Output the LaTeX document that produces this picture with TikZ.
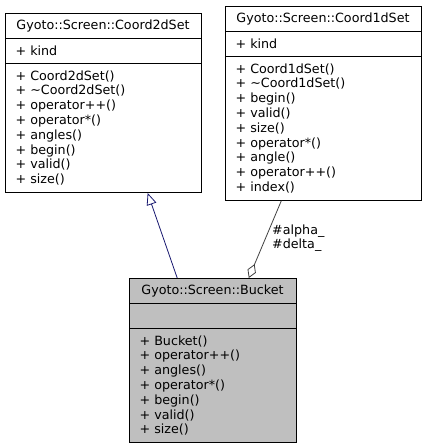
\documentclass[tikz,border=0pt]{standalone}
\usepackage{fontspec}
\setmainfont{DejaVu Sans}
\usetikzlibrary{arrows.meta,calc}
\definecolor{midnight}{HTML}{191970}
\definecolor{edgegrey}{HTML}{404040}
\definecolor{bucketfill}{HTML}{BFBFBF}
\tikzset{
  classbox/.style={draw=black, line width=1pt, inner sep=0pt, anchor=north west},
  sepline/.style={draw=black, line width=1pt},
  txt/.style={inner sep=0pt, anchor=base west, font=\fontsize{12.7}{14.8}\selectfont},
  ttl/.style={inner sep=0pt, anchor=base, font=\fontsize{12.7}{14.8}\selectfont},
  inherit/.style={draw=midnight, line width=0.8pt, -{Triangle[open, length=12pt, width=10pt]}},
  aggr/.style={draw=edgegrey, line width=0.8pt, -{Diamond[open, length=15pt, width=9pt]}}
}
\begin{document}
\begin{tikzpicture}[x=1pt, y=-1pt]
\useasboundingbox (0,0) rectangle (427,448);

% ---------- Coord2dSet ----------
\node[classbox, minimum width=196pt, minimum height=178.9pt] (c2) at (5,13) {};
\draw[sepline] (5,38.1) -- (201,38.1);
\draw[sepline] (5,63.2) -- (201,63.2);
\node[ttl] (c2t) at (103,29.9) {Gyoto::Screen::Coord2dSet};
\node[txt] (c2a) at (15.4,55.0) {+ kind};
\foreach \t [count=\i] in {+ Coord2dSet(), + \textasciitilde Coord2dSet(), + operator++(), + operator*(), + angles(), + begin(), + valid(), + size()}
  \node[txt] (c2m\i) at (15.4,{63.2+16.9+(\i-1)*14.8}) {\t};

% ---------- Coord1dSet ----------
\node[classbox, minimum width=196pt, minimum height=193.7pt] (c1) at (225,6) {};
\draw[sepline] (225,31.1) -- (421,31.1);
\draw[sepline] (225,56.2) -- (421,56.2);
\node[ttl] (c1t) at (323,22.9) {Gyoto::Screen::Coord1dSet};
\node[txt] (c1a) at (235.4,48.0) {+ kind};
\foreach \t [count=\i] in {+ Coord1dSet(), + \textasciitilde Coord1dSet(), + begin(), + valid(), + size(), + operator*(), + angle(), + operator++(), + index()}
  \node[txt] (c1m\i) at (235.4,{56.2+16.9+(\i-1)*14.8}) {\t};

% ---------- Bucket ----------
\node[classbox, fill=bucketfill, minimum width=167pt, minimum height=163.5pt] (bk) at (129,278) {};
\draw[sepline] (129,303.1) -- (296,303.1);
\draw[sepline] (129,328.2) -- (296,328.2);
\node[ttl] (bkt) at (212.5,294.9) {Gyoto::Screen::Bucket};
\foreach \t [count=\i] in {+ Bucket(), + operator++(), + angles(), + operator*(), + begin(), + valid(), + size()}
  \node[txt] (bkm\i) at (139.4,{328.2+16.9+(\i-1)*14.8}) {\t};

% ---------- connectors ----------
\draw[inherit] ($(bk.north west)!0.287!(bk.north east)$) -- ($(c2.south west)!0.724!(c2.south east)$);
\draw[aggr] ($(c1.south west)!0.286!(c1.south east)$) -- ($(bk.north west)!0.713!(bk.north east)$);
\node[txt] (lbla) at (272,234.5) {\#alpha\_};
\node[txt] (lblb) at (272,248.8) {\#delta\_};
\end{tikzpicture}
\end{document}
